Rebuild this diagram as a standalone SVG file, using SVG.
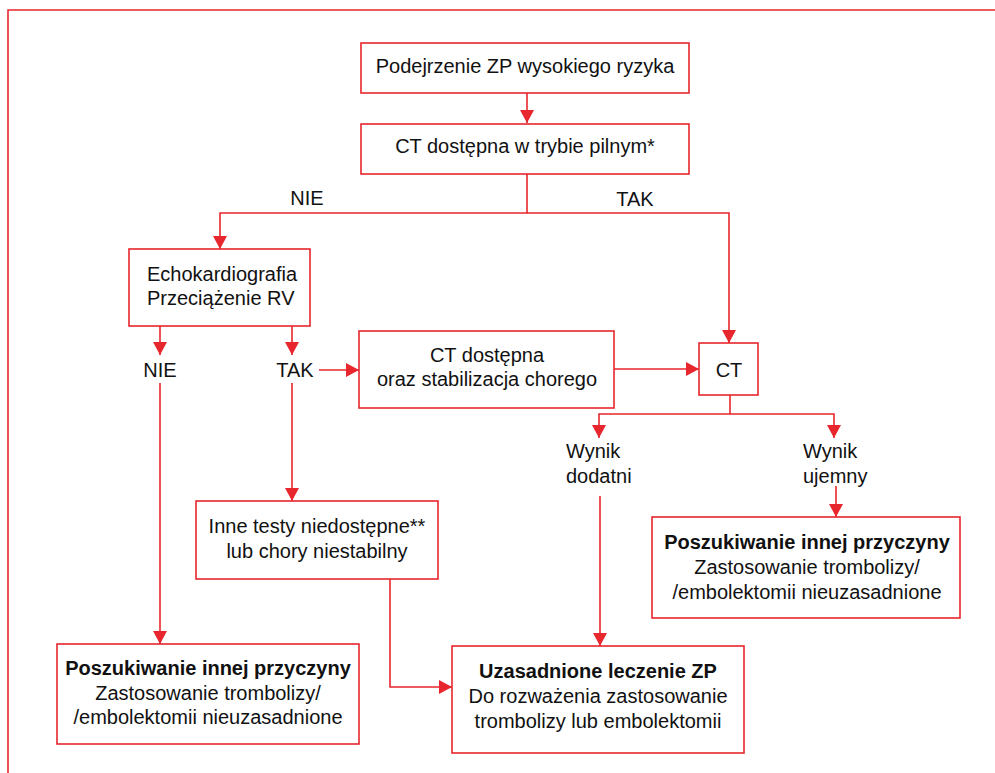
<svg xmlns="http://www.w3.org/2000/svg" width="995" height="773" viewBox="0 0 995 773">
<style>
.box{fill:#fff;stroke:#e8262e;stroke-width:1.6}
.ln{fill:none;stroke:#e8262e;stroke-width:1.6}
text{font-family:"Liberation Sans",Arial,sans-serif;font-size:20px;fill:#111}
.c{text-anchor:middle}
.b{font-weight:bold}
</style>
<defs>
<marker id="ah" markerUnits="userSpaceOnUse" markerWidth="14" markerHeight="14" refX="13" refY="7" orient="auto">
<path d="M0,0 L13,7 L0,14 z" fill="#e8262e"/>
</marker>
</defs>
<rect width="995" height="773" fill="#fff"/>
<path class="ln" d="M8,773 V10 H995"/>
<g id="connectors">
<path class="ln" d="M527,93 V123" marker-end="url(#ah)"/>
<path class="ln" d="M527,174 V213 H220 V249" marker-end="url(#ah)"/>
<path class="ln" d="M527,213 H729 V343" marker-end="url(#ah)"/>
<path class="ln" d="M160,326 V355" marker-end="url(#ah)"/>
<path class="ln" d="M292,326 V355" marker-end="url(#ah)"/>
<path class="ln" d="M319,370 H359" marker-end="url(#ah)"/>
<path class="ln" d="M160,383 V644" marker-end="url(#ah)"/>
<path class="ln" d="M292,383 V501" marker-end="url(#ah)"/>
<path class="ln" d="M614,369 H699" marker-end="url(#ah)"/>
<path class="ln" d="M730,395 V414 H599 V438" marker-end="url(#ah)"/>
<path class="ln" d="M730,414 H834 V438" marker-end="url(#ah)"/>
<path class="ln" d="M600,496 V646" marker-end="url(#ah)"/>
<path class="ln" d="M836,486 V517" marker-end="url(#ah)"/>
<path class="ln" d="M390,579 V687 H452" marker-end="url(#ah)"/>
<text x="307" y="205" class="c">NIE</text>
<text x="635" y="206" class="c">TAK</text>
<text x="160" y="377" class="c">NIE</text>
<text x="295" y="377" class="c">TAK</text>
<text x="566" y="458">Wynik</text>
<text x="566" y="483">dodatni</text>
<text x="803" y="458">Wynik</text>
<text x="803" y="483">ujemny</text>
</g>
<g id="n1">
<rect class="box" x="361" y="43" width="328" height="50"/>
<text x="525" y="73" class="c">Podejrzenie ZP wysokiego ryzyka</text>
</g>
<g id="n2">
<rect class="box" x="361" y="124" width="328" height="50"/>
<text x="525" y="153" class="c">CT dostępna w trybie pilnym*</text>
</g>
<g id="n3">
<rect class="box" x="129" y="249" width="181" height="77"/>
<text x="147" y="281">Echokardiografia</text>
<text x="147" y="305">Przeciążenie RV</text>
</g>
<g id="n4">
<rect class="box" x="359" y="331" width="255" height="77"/>
<text x="487" y="362" class="c">CT dostępna</text>
<text x="487" y="386" class="c">oraz stabilizacja chorego</text>
</g>
<g id="n5">
<rect class="box" x="699" y="343" width="59" height="52"/>
<text x="729" y="377" class="c">CT</text>
</g>
<g id="n6">
<rect class="box" x="196" y="501" width="242" height="78"/>
<text x="317" y="533" class="c">Inne testy niedostępne**</text>
<text x="317" y="558" class="c">lub chory niestabilny</text>
</g>
<g id="n7">
<rect class="box" x="652" y="517" width="308" height="101"/>
<text x="807" y="549" class="c b">Poszukiwanie innej przyczyny</text>
<text x="807" y="574" class="c">Zastosowanie trombolizy/</text>
<text x="807" y="599" class="c">/embolektomii nieuzasadnione</text>
</g>
<g id="n8">
<rect class="box" x="57" y="644" width="302" height="100"/>
<text x="208" y="675" class="c b">Poszukiwanie innej przyczyny</text>
<text x="208" y="700" class="c">Zastosowanie trombolizy/</text>
<text x="208" y="724" class="c">/embolektomii nieuzasadnione</text>
</g>
<g id="n9">
<rect class="box" x="452" y="646" width="292" height="107"/>
<text x="598" y="678" class="c b">Uzasadnione leczenie ZP</text>
<text x="598" y="703" class="c">Do rozważenia zastosowanie</text>
<text x="598" y="728" class="c">trombolizy lub embolektomii</text>
</g>
</svg>
